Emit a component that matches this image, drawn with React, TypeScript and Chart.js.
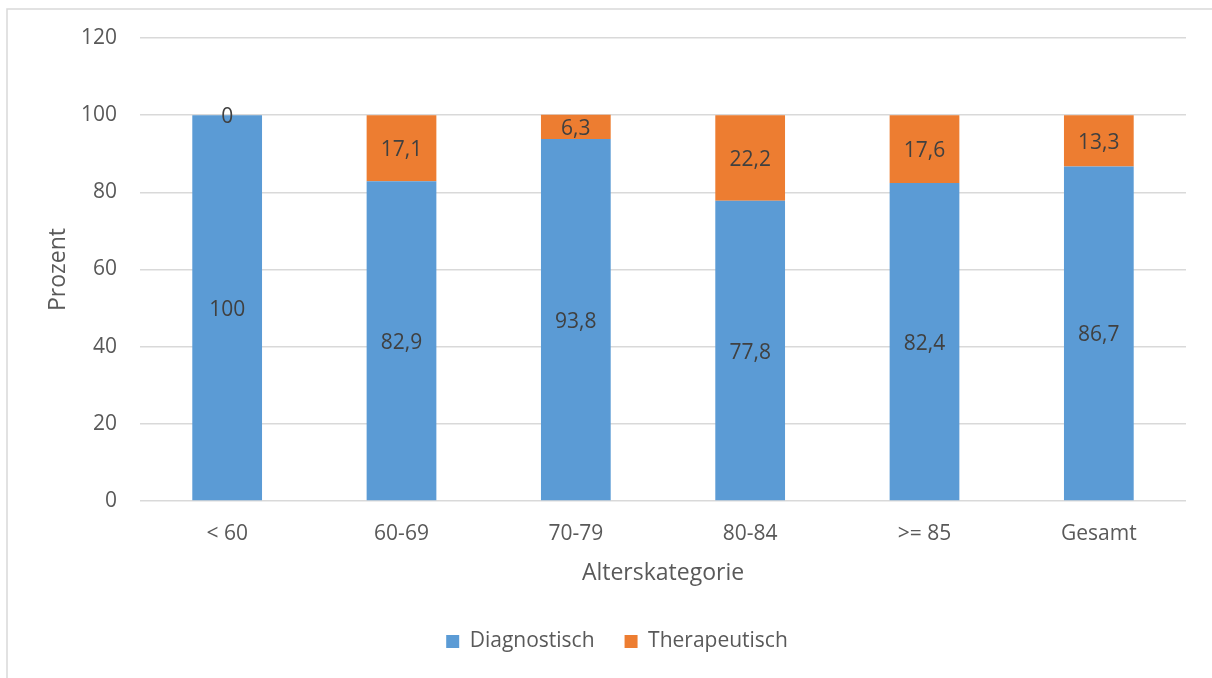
import React, { useEffect, useRef } from "react";
import { Chart, registerables } from "chart.js";

Chart.register(...registerables);

const categories = ["< 60", "60-69", "70-79", "80-84", ">= 85", "Gesamt"];
const diagnostisch = [100, 82.9, 93.8, 77.8, 82.4, 86.7];
const therapeutisch = [0, 17.1, 6.3, 22.2, 17.6, 13.3];
const yTicks = [0, 20, 40, 60, 80, 100, 120];

const FONT = "'Open Sans', sans-serif";

const fmt = (v: number) => String(v).replace(".", ",");

const borderPlugin = {
  id: "frameBorder",
  beforeDraw(chart: any) {
    const ctx = chart.ctx;
    ctx.save();
    ctx.fillStyle = "#ffffff";
    ctx.fillRect(0, 0, chart.width, chart.height);
    ctx.strokeStyle = "#d9d9d9";
    ctx.lineWidth = 1.5;
    ctx.strokeRect(7, 9, chart.width + 20, chart.height + 20);
    ctx.restore();
  },
};

const legendShift = {
  id: "legendShift",
  afterLayout(chart: any) {
    const lg = chart.legend;
    if (lg) {
      lg.left += 9;
      lg.right += 9;
    }
  },
};

const valueLabels = {
  id: "valueLabels",
  afterDatasetsDraw(chart: any) {
    const ctx = chart.ctx;
    ctx.save();
    ctx.font = `21px ${FONT}`;
    ctx.fillStyle = "#404040";
    ctx.textAlign = "center";
    ctx.textBaseline = "middle";
    chart.data.datasets.forEach((ds: any, di: number) => {
      const meta = chart.getDatasetMeta(di);
      meta.data.forEach((el: any, i: number) => {
        const { x, y, base } = el.getProps(["x", "y", "base"], true);
        const cy = (y + base) / 2 + 2;
        ctx.fillText(fmt(ds.data[i]), x, cy);
      });
    });
    ctx.restore();
  },
};

export default function App() {
  const ref = useRef<HTMLCanvasElement>(null);
  useEffect(() => {
    if (!ref.current) return;
    const chart = new Chart(ref.current, {
      type: "bar",
      data: {
        labels: categories,
        datasets: [
          {
            label: "Diagnostisch",
            data: diagnostisch,
            backgroundColor: "#5B9BD5",
            categoryPercentage: 1,
            barPercentage: 0.4,
          },
          {
            label: "Therapeutisch",
            data: therapeutisch,
            backgroundColor: "#ED7D31",
            categoryPercentage: 1,
            barPercentage: 0.4,
          },
        ],
      },
      options: {
        responsive: false,
        animation: false,
        layout: { padding: { left: 30, right: 26, top: 38, bottom: 16 } },
        plugins: {
          legend: {
            position: "bottom",
            labels: {
              boxWidth: 13,
              boxHeight: 13,
              padding: 30,
              color: "#595959",
              font: { family: FONT, size: 21 },
            },
          },
          tooltip: { enabled: false },
        },
        scales: {
          x: {
            stacked: true,
            grid: { display: false },
            border: { display: false },
            ticks: {
              color: "#595959",
              font: { family: FONT, size: 21 },
              padding: 12,
            },
            title: {
              display: true,
              text: "Alterskategorie",
              color: "#595959",
              font: { family: FONT, size: 23 },
              padding: { top: 10, bottom: 14 },
            },
            afterFit(scale: any) {
              scale.height = 100;
            },
          },
          y: {
            stacked: true,
            min: 0,
            max: 120,
            afterBuildTicks(scale: any) {
              scale.ticks = yTicks.map((v) => ({ value: v }));
            },
            grid: { color: "#d9d9d9", lineWidth: 1.5, drawTicks: false },
            border: { display: false },
            ticks: {
              color: "#595959",
              font: { family: FONT, size: 21 },
              padding: 23,
            },
            title: {
              display: true,
              text: "Prozent",
              color: "#595959",
              font: { family: FONT, size: 23 },
              padding: { top: 15, bottom: 0 },
            },
            afterFit(scale: any) {
              scale.width = 110;
            },
          },
        },
      },
      plugins: [borderPlugin, legendShift, valueLabels],
    });
    return () => chart.destroy();
  }, []);
  return (
    <div style={{ position: "fixed", left: 0, top: 0, width: 1212, height: 678 }}>
      <canvas ref={ref} width={1212} height={678} />
    </div>
  );
}
